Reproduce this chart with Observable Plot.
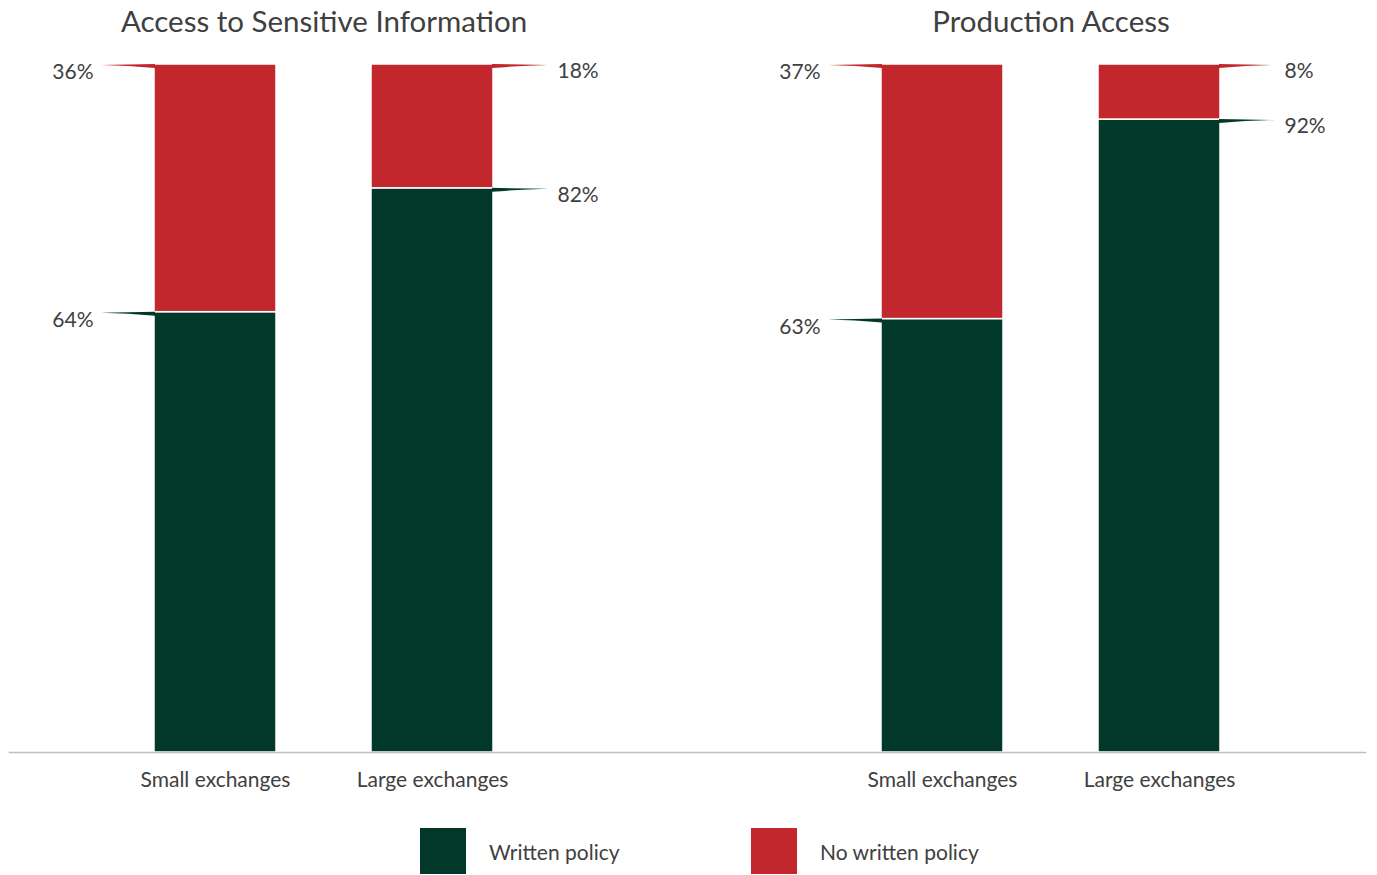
<!DOCTYPE html>
<html><head><meta charset="utf-8">
<script src="https://cdn.jsdelivr.net/npm/d3@7"></script>
<script src="https://cdn.jsdelivr.net/npm/@observablehq/plot@0.6"></script>
<style>
body{margin:0;background:#fff;font-family:Lato, "Open Sans", sans-serif;}
#legend{position:relative;height:65px;width:1377px;}
.sw{position:absolute;top:18px;width:46px;height:46px;}
.lt{position:absolute;top:29px;font-size:21px;color:#404040;line-height:26px;white-space:nowrap;}
</style></head><body><div id="chart"></div><div id="legend"></div>
<script>
const panels = ["Access to Sensitive Information", "Production Access"];
const categories = ["Small exchanges", "Large exchanges"];
const seriesNames = ["Written policy", "No written policy"];
const writtenValues = [[64, 82], [63, 92]];   // per panel: [small, large]
const noWrittenValues = [[36, 18], [37, 8]];
const colors = ["#02382a", "#c1272c"];

const data = [];
panels.forEach((p, pi) => categories.forEach((c, ci) => {
  data.push({panel: p, cat: c, series: seriesNames[0], value: writtenValues[pi][ci], top: writtenValues[pi][ci]});
  data.push({panel: p, cat: c, series: seriesNames[1], value: noWrittenValues[pi][ci], top: writtenValues[pi][ci] + noWrittenValues[pi][ci]});
}));
const leftData = data.filter(d => d.cat === categories[0]);
const rightData = data.filter(d => d.cat === categories[1]);
const sideData = {left: leftData, right: rightData};
const colorOf = s => colors[seriesNames.indexOf(s)];

function wedgeRender(side) {
  return function(index, scales, values, dims, ctx) {
    const g = d3.create("svg:g");
    const bw = scales.x.bandwidth ? scales.x.bandwidth() : 122;
    for (const i of index) {
      const d = sideData[side][i];
      const x0 = scales.x(d.cat);
      const y = scales.y(d.top);
      let edge, tip;
      if (side === "left") { edge = x0 + 1; tip = x0 - 53; }
      else { edge = x0 + bw - 1; tip = x0 + bw + 55; }
      const cx = (edge + tip) / 2;
      g.append("path")
        .attr("d", `M${tip},${y + 1} L${edge},${y} L${edge},${y + 4} Q${cx},${y + 1.6} ${tip},${y + 1} Z`)
        .attr("fill", colorOf(d.series));
    }
    return g.node();
  };
}

const txt = {fontFamily: "Lato", fill: "#404040"};

const chart = Plot.plot({
  width: 1377,
  height: 810,
  marginTop: 64,
  marginBottom: 58,
  marginLeft: 8,
  marginRight: 11,
  style: {fontFamily: "Lato", background: "white"},
  fx: {domain: panels, paddingInner: 0.1346, paddingOuter: 0, axis: null, label: null},
  x: {domain: categories, paddingInner: 0.44, paddingOuter: 0.665, label: null},
  y: {domain: [0, 100], axis: null},
  color: {domain: seriesNames, range: colors},
  marks: [
    Plot.barY(data, {fx: "panel", x: "cat", y: "value", fill: "series", stroke: "white", strokeWidth: 1.5}),
    Plot.frame({anchor: "bottom", facet: "super", stroke: "#bfbfbf", strokeWidth: 1.5}),
    Plot.axisX({fontSize: 21, tickSize: 0, tickPadding: 20, fill: "#404040", fontFamily: "Lato", label: null}),
    Plot.text(panels, {fx: d => d, text: d => d, frameAnchor: "top", dy: -42, fontSize: 29.5, lineAnchor: "middle", ...txt}),
    Plot.tickY(leftData, {fx: "panel", x: "cat", y: "top", render: wedgeRender("left")}),
    Plot.tickY(rightData, {fx: "panel", x: "cat", y: "top", render: wedgeRender("right")}),
    Plot.text(leftData, {fx: "panel", x: "cat", y: "top", text: d => d.value + "%", textAnchor: "end", dx: -122, dy: 8, fontSize: 21, ...txt}),
    Plot.text(rightData, {fx: "panel", x: "cat", y: "top", text: d => d.value + "%", textAnchor: "start", dx: 125, dy: 7, fontSize: 21, ...txt})
  ]
});
document.getElementById("chart").append(chart);

const legend = document.getElementById("legend");
const legendPos = [[420, 489], [751, 820]];
seriesNames.forEach((s, i) => {
  const sw = document.createElement("div");
  sw.className = "sw"; sw.style.left = legendPos[i][0] + "px"; sw.style.background = colors[i];
  const t = document.createElement("div");
  t.className = "lt"; t.style.left = legendPos[i][1] + "px"; t.textContent = s;
  legend.append(sw, t);
});
</script></body></html>
